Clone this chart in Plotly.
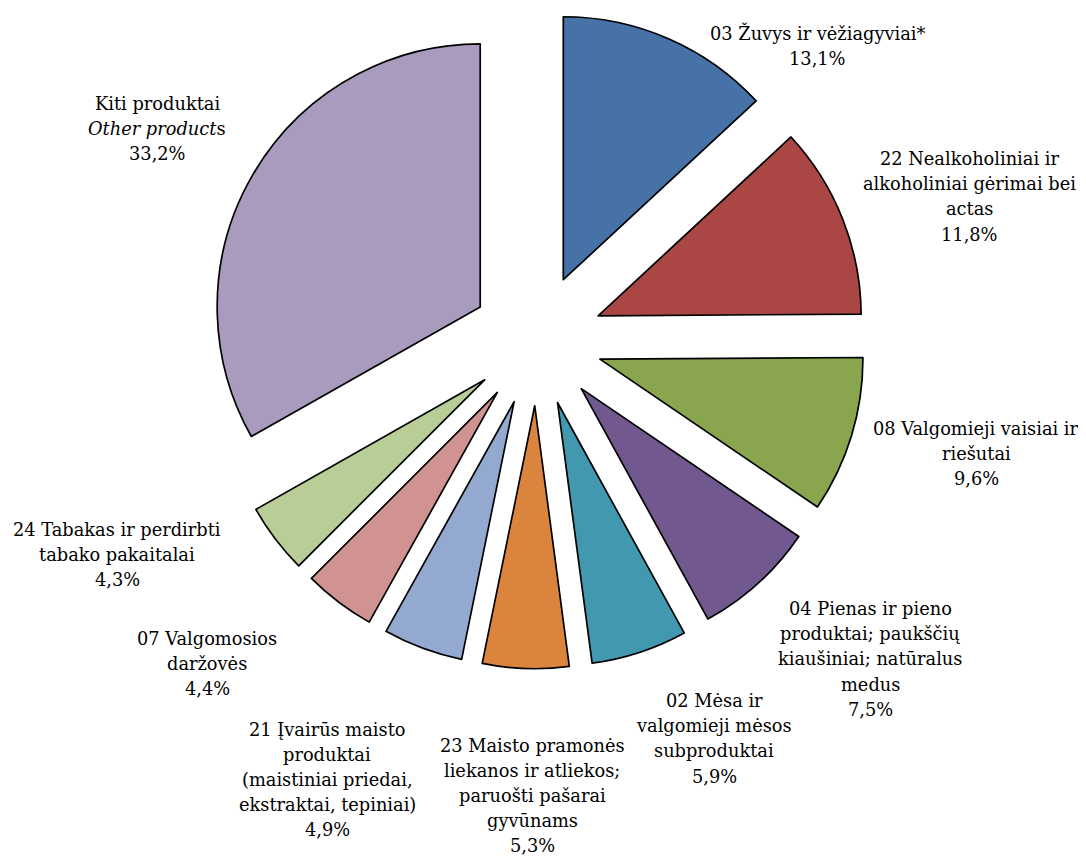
import plotly.graph_objects as go

# ---- data ----
categories = [
    "03 Žuvys ir vėžiagyviai*",
    "22 Nealkoholiniai ir<br>alkoholiniai gėrimai bei<br>actas",
    "08 Valgomieji vaisiai ir<br>riešutai",
    "04 Pienas ir pieno<br>produktai; paukščių<br>kiaušiniai; natūralus<br>medus",
    "02 Mėsa ir<br>valgomieji mėsos<br>subproduktai",
    "23 Maisto pramonės<br>liekanos ir atliekos;<br>paruošti pašarai<br>gyvūnams",
    "21 Įvairūs maisto<br>produktai<br>(maistiniai priedai,<br>ekstraktai, tepiniai)",
    "07 Valgomosios<br>daržovės",
    "24 Tabakas ir perdirbti<br>tabako pakaitalai",
    "Kiti produktai<br><i>Other product</i>s",
]
shares = [13.1, 11.8, 9.6, 7.5, 5.9, 5.3, 4.9, 4.4, 4.3, 33.2]

# ---- style ----
colors = ["#4672A8", "#AA4745", "#89A54E", "#71588F", "#4298AF",
          "#DB843D", "#93A9D0", "#D19392", "#B9CD97", "#A99BBD"]
# label anchor in page pixels (x centre, y centre of first line)
label_pos = [(817, 33.5), (969, 158.5), (976, 428.5), (870, 608.5), (714, 700.5),
             (532, 745), (327, 729), (207, 638), (117, 529), (157, 103)]
LINE_H = 25.2
OFF = 8                      # default page body margin
W, H = 1086 - OFF, 857 - OFF  # figure size
FONT = dict(family="DejaVu Serif", size=17.8, color="#000000")

# pie geometry (page pixels)
cx, cy, R, pull = 537 - OFF, 340 - OFF, 263, 0.25
half = R * (1 + pull)

fig = go.Figure(go.Pie(
    values=shares,
    labels=[c.replace("<br>", " ").replace("<i>", "").replace("</i>", "") for c in categories],
    sort=False,
    direction="clockwise",
    rotation=0,
    pull=[pull] * len(shares),
    textinfo="none",
    marker=dict(colors=colors, line=dict(color="#000000", width=1.7)),
    domain=dict(x=[(cx - half) / W, (cx + half) / W],
                y=[1 - (cy + half) / H, 1 - (cy - half) / H]),
    showlegend=False,
))

annotations = []
for cat, val, (px, py) in zip(categories, shares, label_pos):
    lines = cat.split("<br>") + [f"{val:.1f}".replace(".", ",") + "%"]
    for i, ln in enumerate(lines):
        annotations.append(dict(
            x=(px - OFF) / W, y=1 - (py - OFF + i * LINE_H) / H,
            xref="paper", yref="paper",
            text=ln, showarrow=False, xanchor="center", yanchor="middle",
            font=FONT,
        ))

fig.update_layout(
    width=W, height=H,
    margin=dict(l=0, r=0, t=0, b=0),
    paper_bgcolor="white", plot_bgcolor="white",
    annotations=annotations,
)

fig.write_html("out.html")
